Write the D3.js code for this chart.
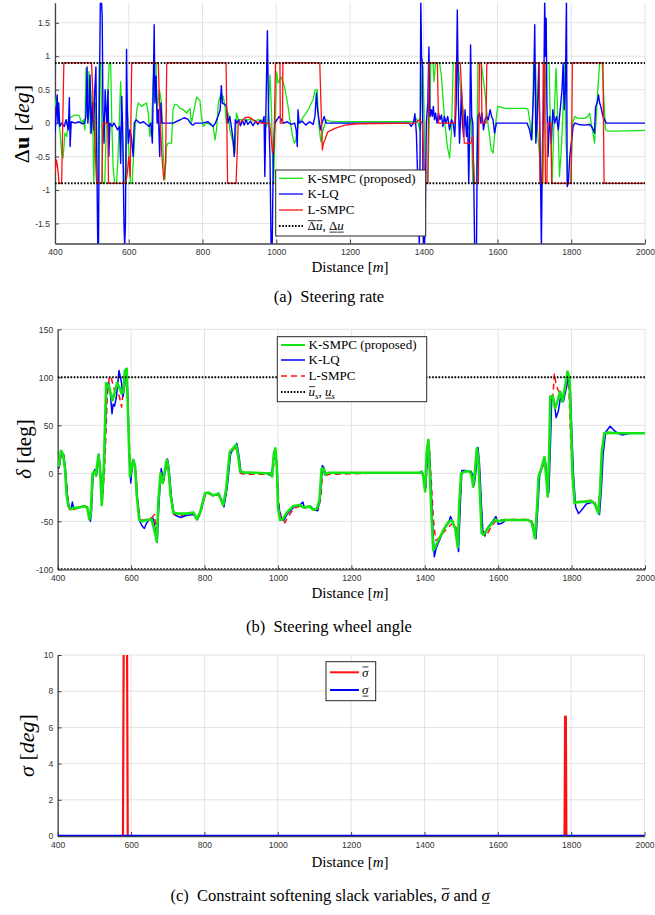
<!DOCTYPE html>
<html><head><meta charset="utf-8">
<script src="https://cdn.jsdelivr.net/npm/d3@7"></script>
<style>body{margin:0;background:#fff} svg{display:block}</style>
</head><body><svg id="c" width="655" height="915"></svg>
<script>
// ---------------- DATA ----------------
const xTicks = [400,600,800,1000,1200,1400,1600,1800,2000];
const rateTicks = [-1.5,-1,-0.5,0,0.5,1,1.5];
const angleTicks = [-100,-50,0,50,100,150];
const slackTicks = [0,2,4,6,8,10];
const rateBound = 0.9;
const angleBound = 100;

// (a) steering rate [distance, value]
const rate_KSMPC = [[400,0.25],[404,0.39],[408,0.1],[413,-0.1],[418,-0.45],[422,-0.52],[427,-0.15],[432,-0.2],[436,0.05],[441,0.08],[447,0.1],[452,0.12],[460,0.12],[466,0.11],[472,0.0],[477,0.05],[481,-0.1],[484,0.82],[487,0.2],[490,0.4],[492,0.77],[496,-0.15],[501,0.5],[505,-0.9],[510,0.3],[513,-0.9],[517,-0.9],[520,0.9],[524,0.9],[529,-0.9],[535,-0.9],[540,0.1],[547,0.9],[551,0.9],[554,0.0],[558,-0.7],[562,-0.9],[567,-0.9],[571,-0.5],[578,0.62],[583,-0.3],[588,-0.9],[592,-0.9],[596,0.3],[601,-0.6],[605,-0.9],[609,-0.9],[617,-0.1],[622,0.2],[626,0.3],[635,0.25],[642,0.28],[648,0.3],[653,0.15],[657,-0.2],[662,-0.05],[666,0.6],[669,0.9],[674,0.9],[677,0.2],[683,0.5],[689,0.3],[693,-0.4],[698,-0.85],[702,-0.35],[707,-0.3],[716,-0.3],[720,0.2],[725,0.28],[730,0.28],[739,0.22],[748,0.2],[757,0.15],[766,0.22],[770,0.0],[779,0.25],[784,0.39],[793,0.34],[797,0.1],[802,-0.05],[811,0.0],[820,-0.02],[829,-0.05],[834,-0.25],[838,-0.1],[843,0.3],[849,0.42],[856,0.4],[861,0.25],[865,0.0],[870,0.15],[874,-0.1],[883,-0.3],[888,-0.45],[892,0.15],[897,0.05],[910,0.05],[920,0.04],[930,0.06],[940,0.03],[950,0.05],[960,0.04],[965,0.05],[974,-0.05],[978,0.1],[983,0.72],[987,0.2],[990,-0.5],[993,-0.9],[996,-0.2],[1001,0.77],[1005,0.6],[1014,0.69],[1023,0.53],[1032,0.25],[1037,0.05],[1046,-0.25],[1050,-0.3],[1055,-0.2],[1060,0.0],[1068,0.05],[1077,0.12],[1087,0.2],[1095,0.3],[1100,0.35],[1105,0.49],[1111,0.5],[1115,0.0],[1121,-0.28],[1127,-0.1],[1136,0.05],[1150,0.02],[1200,0.02],[1375,0.02],[1380,0.07],[1385,0.0],[1389,-0.1],[1394,0.5],[1398,0.85],[1401,0.1],[1404,-0.9],[1411,-0.9],[1419,0.9],[1425,0.9],[1428,0.62],[1432,0.9],[1443,0.9],[1448,0.7],[1457,0.0],[1464,-0.35],[1470,-0.52],[1475,-0.15],[1480,0.9],[1493,0.9],[1498,0.6],[1511,0.0],[1520,-0.1],[1529,0.1],[1533,-0.9],[1543,-0.9],[1547,0.9],[1556,0.9],[1565,0.5],[1574,0.0],[1583,-0.4],[1588,-0.45],[1592,-0.2],[1597,0.1],[1601,0.25],[1610,0.24],[1620,0.22],[1650,0.22],[1678,0.22],[1683,0.2],[1687,0.05],[1694,-0.25],[1698,0.9],[1703,0.9],[1707,0.0],[1714,-0.5],[1719,-0.9],[1723,-0.9],[1728,0.3],[1732,0.9],[1740,0.9],[1743,0.1],[1748,-0.9],[1755,0.3],[1759,0.82],[1764,0.0],[1768,-0.8],[1773,-0.4],[1777,0.1],[1782,0.87],[1786,-0.3],[1791,-0.9],[1798,-0.9],[1804,0.0],[1809,0.1],[1818,0.07],[1836,0.07],[1845,0.1],[1850,0.15],[1854,0.0],[1859,-0.15],[1863,-0.3],[1868,0.1],[1872,0.5],[1877,0.9],[1884,0.9],[1888,0.4],[1893,-0.1],[1900,-0.12],[1922,-0.12],[2000,-0.11]];

const rate_KLQ = [[400,-0.15],[403,0.1],[406,0.42],[408,0.0],[410,0.3],[413,-0.05],[418,0.0],[425,-0.05],[430,0.05],[436,-0.1],[439,0.38],[441,-0.35],[444,0.02],[455,0.0],[465,0.02],[475,-0.01],[480,0.0],[484,0.1],[487,0.84],[489,0.0],[492,0.2],[495,0.72],[498,-0.15],[502,0.3],[505,-0.1],[508,0.5],[511,0.84],[513,-0.3],[516,-1.85],[518,-1.85],[520,0.2],[523,1.85],[526,1.85],[528,1.6],[530,0.2],[533,-0.3],[536,0.5],[538,0.25],[541,0.0],[544,0.5],[546,-0.5],[549,0.0],[555,-0.05],[560,0.0],[570,-0.1],[575,-0.05],[578,-0.6],[581,0.4],[584,-0.2],[587,-1.5],[589,-1.85],[591,-1.5],[594,1.1],[596,0.2],[599,-0.3],[603,-0.1],[607,-0.2],[612,-0.5],[615,0.0],[620,0.05],[630,0.0],[640,0.02],[655,-0.05],[660,0.0],[664,-0.3],[667,0.7],[669,1.47],[671,0.3],[674,0.7],[677,0.0],[680,0.2],[684,-0.5],[687,0.3],[690,0.0],[700,0.0],[720,0.0],[740,0.05],[750,0.08],[760,0.06],[770,-0.02],[775,-0.03],[780,0.0],[800,0.0],[815,0.02],[829,-0.05],[835,0.0],[842,0.1],[848,0.2],[851,0.56],[854,0.3],[860,0.28],[865,0.25],[869,0.0],[874,0.1],[878,-0.05],[883,-0.25],[886,-0.5],[889,0.05],[893,0.0],[898,0.05],[903,-0.04],[908,0.04],[913,-0.03],[918,0.05],[923,-0.02],[930,0.03],[937,-0.04],[944,0.03],[950,-0.02],[957,0.04],[963,0.0],[967,0.1],[969,-0.8],[972,0.2],[976,1.38],[979,0.2],[983,-0.5],[986,-1.85],[989,-1.85],[992,-0.5],[996,0.0],[1002,0.05],[1008,0.1],[1014,0.05],[1020,0.0],[1030,0.02],[1040,-0.02],[1050,0.0],[1054,-0.1],[1057,-0.35],[1059,0.2],[1062,0.0],[1070,0.03],[1080,-0.03],[1090,0.02],[1100,-0.02],[1105,0.1],[1109,0.45],[1112,0.2],[1116,0.05],[1120,-0.1],[1124,0.0],[1130,0.1],[1135,0.0],[1140,0.0],[1200,0.0],[1360,0.0],[1366,-0.05],[1372,0.0],[1376,0.14],[1380,-0.15],[1384,-0.9],[1388,-1.85],[1390,-0.5],[1392,1.85],[1394,1.0],[1396,0.9],[1399,-1.85],[1402,-1.85],[1404,-1.43],[1407,0.0],[1411,0.3],[1414,1.14],[1417,0.1],[1420,0.2],[1423,0.1],[1426,0.25],[1429,0.05],[1432,0.15],[1436,0.0],[1440,0.15],[1444,0.05],[1448,0.12],[1452,-0.05],[1456,0.1],[1460,0.0],[1465,0.1],[1470,-0.1],[1475,0.05],[1480,0.0],[1484,-0.2],[1488,0.3],[1491,1.69],[1494,0.3],[1497,-0.3],[1500,0.1],[1502,0.5],[1505,0.0],[1508,-0.2],[1512,0.2],[1516,-0.2],[1519,0.1],[1522,-0.9],[1525,0.0],[1527,1.17],[1530,0.1],[1533,0.0],[1536,-1.0],[1538,-1.85],[1543,-1.85],[1545,-0.5],[1547,0.1],[1551,0.15],[1555,0.0],[1558,0.15],[1562,-0.1],[1566,0.05],[1570,0.1],[1575,0.05],[1580,0.2],[1584,0.1],[1588,0.05],[1592,-0.15],[1597,0.0],[1601,0.0],[1680,0.0],[1687,-0.1],[1692,-0.25],[1695,0.1],[1698,0.5],[1701,1.47],[1704,-0.3],[1708,0.1],[1712,0.9],[1716,-0.5],[1719,-1.85],[1722,-0.3],[1725,0.2],[1728,1.85],[1730,1.0],[1732,1.57],[1734,0.3],[1737,-0.5],[1741,0.1],[1746,-0.3],[1750,0.2],[1755,0.0],[1760,0.1],[1765,-0.1],[1770,0.2],[1775,0.5],[1778,0.9],[1781,0.2],[1784,0.5],[1787,1.85],[1789,-0.95],[1792,-0.9],[1796,-0.5],[1800,-0.3],[1805,-0.05],[1810,0.0],[1820,-0.02],[1835,-0.03],[1850,-0.02],[1855,-0.05],[1860,-0.1],[1863,-0.15],[1866,0.24],[1870,0.3],[1874,0.42],[1877,0.3],[1880,0.25],[1886,0.1],[1895,0.0],[1910,0.0],[2000,0.0]];

const rate_LSMPC = [[400,-0.75],[404,-0.55],[407,-0.65],[411,-0.9],[418,-0.9],[424,0.9],[499,0.9],[513,-0.9],[527,-0.9],[530,0.0],[543,0.0],[545,-0.9],[592,-0.9],[596,-0.75],[600,-0.5],[604,-0.8],[608,0.9],[680,0.9],[684,0.2],[690,-0.5],[695,-0.85],[700,-0.6],[703,0.9],[864,0.9],[868,-0.9],[891,-0.9],[897,0.0],[905,0.02],[915,0.08],[925,0.09],[935,0.06],[945,0.02],[960,0.0],[982,0.0],[986,-0.2],[990,-0.45],[994,-0.3],[998,0.9],[1010,0.9],[1011,0.0],[1017,0.0],[1018,0.9],[1118,0.9],[1125,-0.4],[1128,-0.3],[1132,-0.25],[1140,-0.13],[1159,-0.08],[1186,-0.03],[1220,-0.01],[1376,0.0],[1388,0.05],[1396,0.0],[1403,-0.9],[1411,-0.9],[1414,0.9],[1437,0.9],[1440,0.0],[1484,0.0],[1487,0.9],[1499,0.9],[1510,-0.3],[1528,-0.3],[1532,-0.2],[1537,-0.9],[1548,-0.9],[1551,0.9],[1556,0.9],[1558,0.0],[1569,0.0],[1571,0.9],[1713,0.9],[1715,-0.9],[1722,-0.9],[1724,0.9],[1728,0.9],[1730,-0.9],[1734,-0.9],[1736,0.0],[1745,0.0],[1747,-0.9],[1800,-0.9],[1803,0.9],[1886,0.9],[1889,-0.9],[2000,-0.9]];

// (b) steering wheel angle [distance, deg]
const angle_KSMPC = [[400,7],[403,8],[409,23.5],[415,19],[420,3.5],[424,-21],[429,-34],[435,-37.5],[447,-36],[461,-35.5],[474,-34],[481,-36],[486,-48],[490,-41],[495,0],[500,2],[504,-2],[511,19],[515,7],[520,-33],[526,10],[532,94],[538,92],[542,87],[549,76],[556,85],[562,94],[570,88],[574,83],[579,85],[583,107],[588,109],[592,55],[597,-3.5],[602,7],[606,14],[611,7],[615,-21],[622,-48.6],[633,-50],[642,-48.6],[656,-48],[665,-62],[670,-71],[674,-30],[680,0],[686,-10],[697,14],[701,7],[708,-24],[715,-41],[729,-42],[751,-42],[770,-41],[779,-48],[788,-40.7],[801,-21],[810,-20],[824,-23],[838,-21],[847,-29.5],[851,-33],[859,-16],[869,22.5],[878,26],[886,29.5],[892,17],[897,2],[906,1],[970,0],[978,0],[984,-3.5],[986,7],[989,21],[993,26],[997,7],[1000,-35],[1006,-48.6],[1013,-48],[1024,-41],[1042,-34],[1060,-33],[1069,-35.5],[1087,-34.7],[1096,-38],[1106,-37],[1113,-28],[1119,5],[1124,5],[1128,-1.5],[1137,0.5],[1200,0.5],[1383,0.5],[1392,1.5],[1396,-3.5],[1401,-19],[1405,21],[1410,35],[1414,-3],[1419,-48.6],[1423,-80],[1428,-77],[1437,-70],[1451,-59],[1464,-51],[1474,-49],[1483,-57.6],[1490,-77],[1494,-31],[1499,0],[1510,2],[1523,2],[1528,-3.5],[1532,-14],[1537,3.5],[1542,26],[1546,14],[1551,-28],[1555,-62.5],[1560,-64],[1569,-59],[1583,-52],[1592,-48],[1600,-50],[1619,-48.6],[1682,-48.6],[1691,-51],[1696,-59],[1700,-67.7],[1706,-35],[1710,-3.5],[1719,7],[1726,17],[1730,0],[1735,-24],[1739,21],[1742,80],[1748,80.5],[1755,67.7],[1761,74.6],[1769,85],[1775,74.6],[1782,90],[1789,106],[1794,100],[1798,55.5],[1802,3.5],[1808,-31],[1817,-30],[1837,-29.5],[1855,-29],[1864,-32.5],[1873,-41.7],[1878,-17],[1882,21],[1889,41.7],[1900,42.4],[1928,41.7],[2000,41.7]];

const angle_KLQ = [[400,5],[404,7],[410,22],[416,20],[421,5],[426,-22],[431,-35],[437,-36],[440,-30],[443,-36],[455,-36],[470,-34],[480,-35],[487,-46],[489,-50],[492,-40],[496,-2],[501,4],[506,-2],[512,20],[516,5],[521,-30],[527,12],[534,93],[539,94],[543,85],[548,62],[551,72],[555,70],[560,80],[567,107],[571,100],[574,94],[578,80],[582,90],[587,109],[591,80],[595,20],[599,-10],[604,12],[608,10],[613,-5],[617,-25],[624,-50],[630,-55],[636,-57.5],[642,-52],[650,-48],[660,-47],[666,-60],[671,-72],[676,-30],[682,5],[688,-8],[699,15],[703,6],[710,-25],[716,-40],[722,-44],[735,-46],[750,-44],[770,-43],[781,-48],[790,-39],[803,-20],[812,-21],[826,-23],[840,-22],[849,-30],[853,-35],[862,-14],[871,20],[879,27],[888,31],[894,18],[899,2],[910,0],[970,0],[980,-2],[985,5],[988,14],[992,18],[997,12],[1001,-30],[1008,-48],[1016,-49],[1026,-42],[1044,-35],[1060,-33],[1068,-30],[1072,-36],[1088,-34],[1098,-38],[1108,-39],[1115,-27],[1121,8],[1125,6],[1130,-1],[1140,0.5],[1383,0],[1393,2],[1398,-5],[1403,-15],[1408,30],[1412,28],[1416,-5],[1421,-50],[1426,-87],[1431,-78],[1440,-70],[1452,-58],[1465,-52],[1470,-45],[1476,-50],[1485,-60],[1492,-81.5],[1497,-30],[1501,3],[1512,3],[1526,2],[1531,-2],[1535,-12],[1540,5],[1545,27],[1549,10],[1554,-30],[1558,-60],[1563,-65],[1571,-57],[1585,-50],[1594,-45],[1600,-53],[1610,-52],[1620,-49],[1683,-49],[1693,-52],[1699,-60],[1703,-68],[1709,-30],[1713,-2],[1721,8],[1728,15],[1733,-2],[1738,-20],[1742,25],[1746,80],[1751,78],[1758,58],[1764,65],[1771,82],[1778,75],[1785,88],[1791,100],[1796,90],[1800,50],[1805,0],[1811,-35],[1819,-42],[1828,-38],[1840,-32],[1858,-30],[1867,-34],[1876,-43],[1881,-18],[1886,20],[1893,43],[1905,49],[1915,45],[1925,42],[1937,40],[1960,41.7],[2000,41.7]];

const angle_LSMPC = [[400,5],[404,6],[411,22],[417,18],[422,0],[427,-25],[432,-38],[437,-39],[448,-37],[462,-36],[475,-34],[482,-38],[487,-46],[491,-42],[496,-3],[501,1],[505,-3],[512,16],[516,4],[521,-32],[528,5],[535,80],[540,99],[545,101],[550,93],[555,86],[562,86],[568,80],[574,69],[579,88],[585,100],[590,90],[594,40],[599,-5],[603,8],[608,12],[613,5],[617,-25],[624,-48],[635,-49],[645,-47],[657,-46],[664,-43],[669,-68],[675,-30],[681,0],[687,-12],[698,12],[702,5],[709,-26],[716,-43],[730,-44],[752,-43],[770,-42],[780,-48],[789,-42],[802,-22],[811,-21],[825,-24],[839,-22],[848,-31],[852,-34],[860,-18],[870,20],[879,25],[887,27],[893,15],[898,0],[910,-1],[970,-1],[985,-2],[989,10],[993,18],[998,5],[1002,-32],[1010,-47],[1019,-51.5],[1028,-45],[1045,-36],[1062,-34],[1072,-36],[1090,-35],[1100,-37],[1110,-38],[1117,-25],[1122,3],[1126,3],[1131,-2],[1140,-1],[1250,0],[1384,0],[1393,1],[1397,-4],[1403,-14],[1408,22],[1412,30],[1418,-10],[1424,-50],[1430,-70],[1437,-68],[1450,-62],[1465,-56],[1476,-52],[1485,-56],[1491,-70],[1496,-35],[1501,0],[1512,2],[1525,2],[1530,-4],[1534,-12],[1539,2],[1544,24],[1548,12],[1553,-30],[1558,-58],[1565,-66],[1572,-62],[1584,-54],[1593,-50],[1602,-49],[1620,-48],[1682,-48],[1692,-50],[1697,-56],[1701,-62],[1707,-30],[1711,-3],[1720,5],[1727,12],[1732,-3],[1736,-20],[1740,20],[1744,70],[1750,85],[1753,104],[1758,92],[1764,86],[1770,82],[1776,75],[1782,88],[1788,102],[1793,85],[1797,40],[1802,0],[1807,-30],[1816,-30],[1836,-29],[1855,-28],[1863,-30],[1872,-40],[1877,-18],[1882,18],[1889,40],[1900,42],[1930,41.7],[2000,41.7]];

// (c) slack variables [distance, deg]
const slackUpper = [[400,0],[578,0],[580,11],[589,11],[591,0],[1782,0],[1783.5,6.6],[1785.5,6.6],[1787,0],[2000,0]];
const slackLower = [[400,0],[2000,0]];

// ---------------- DRAWING ----------------
const svg = d3.select('#c');
svg.append('rect').attr('width',655).attr('height',915).attr('fill','#fff');
const SERIF = "Liberation Serif, Tinos, Times New Roman, DejaVu Serif, Noto Serif, serif";
const SANS = "Liberation Sans, Arimo, Arial, Helvetica, sans-serif";
const GREEN = '#12e612', BLUE = '#0000ff', RED = '#ff1010';

function rich(g, parts, size, x0, y0) {
  let x = x0;
  parts.forEach(p => {
    const fs = p.sub ? size*0.7 : size;
    const dy = p.sub ? size*0.22 : 0;
    const t = g.append('text').attr('x', x).attr('y', y0+dy)
      .style('font-family', SERIF).style('font-size', fs + 'px')
      .style('font-style', p.it ? 'italic' : 'normal')
      .style('font-weight', p.b ? 'bold' : 'normal')
      .attr('fill', '#000').style('white-space','pre').text(p.t);
    const w = t.node().getComputedTextLength();
    if (p.over) g.append('line').attr('x1', x+0.5).attr('x2', x+w).attr('y1', y0-size*0.74).attr('y2', y0-size*0.74)
      .attr('stroke','#000').attr('stroke-width', Math.max(0.8,size*0.055));
    if (p.under) g.append('line').attr('x1', x+0.5).attr('x2', x+w).attr('y1', y0+size*0.14).attr('y2', y0+size*0.14)
      .attr('stroke','#000').attr('stroke-width', Math.max(0.8,size*0.055));
    x += w;
  });
  return x - x0;
}
function centeredRich(parts, size, cx, baseline) {
  const g = svg.append('g');
  const inner = g.append('g');
  const w = rich(inner, parts, size, 0, 0);
  g.attr('transform', `translate(${cx - w/2},${baseline})`);
}
function rotatedRich(parts, size, cx, cy) {
  const g = svg.append('g').attr('transform', `translate(${cx},${cy}) rotate(-90)`);
  const inner = g.append('g');
  const w = rich(inner, parts, size, 0, 0);
  inner.attr('transform', `translate(${-w/2},${size*0.33})`);
}

let clipId = 0;
function panel(cfg) {
  const x = d3.scaleLinear().domain([400,2000]).range([cfg.x0, cfg.x1]);
  const y = d3.scaleLinear().domain(cfg.yDomain).range([cfg.y1, cfg.y0]);
  const g = svg.append('g');
  const id = 'clip' + (clipId++);
  g.append('clipPath').attr('id', id).append('rect')
    .attr('x', cfg.x0).attr('y', cfg.y0).attr('width', cfg.x1-cfg.x0).attr('height', cfg.y1-cfg.y0);
  const grid = g.append('g').attr('stroke','#e3e3e3').attr('stroke-width',1);
  xTicks.forEach(t => grid.append('line').attr('x1', x(t)).attr('x2', x(t)).attr('y1', cfg.y0).attr('y2', cfg.y1));
  cfg.yTicks.forEach(t => grid.append('line').attr('x1', cfg.x0).attr('x2', cfg.x1).attr('y1', y(t)).attr('y2', y(t)));
  const ax = g.append('g').attr('transform', `translate(0,${cfg.y1})`)
    .call(d3.axisBottom(x).tickValues(xTicks).tickSize(-4).tickSizeOuter(0).tickPadding(5.5).tickFormat(d => String(d)));
  const ay = g.append('g').attr('transform', `translate(${cfg.x0},0)`)
    .call(d3.axisLeft(y).tickValues(cfg.yTicks).tickSize(-4).tickSizeOuter(0).tickPadding(cfg.yPad).tickFormat(d => String(d)));
  [ax, ay].forEach(a => {
    a.attr('font-family', null).attr('font-size', null);
    a.select('.domain').attr('stroke','#444').attr('stroke-width',1.3);
    a.selectAll('.tick line').attr('stroke','#444');
    a.selectAll('.tick text').style('font-family', SANS).style('font-size', '8.6px').attr('fill','#333');
  });
  const plot = g.append('g').attr('clip-path', `url(#${id})`);
  const line = d3.line().x(d => x(d[0])).y(d => y(d[1]));
  return {x, y, plot, line};
}
function drawSeries(p, data, color, width, dash) {
  p.plot.append('path').datum(data).attr('d', p.line).attr('fill','none')
    .attr('stroke', color).attr('stroke-width', width).attr('stroke-linejoin','round')
    .attr('stroke-dasharray', dash || null);
}
function dotted(p, v) {
  p.plot.append('line').attr('x1', p.x(400)).attr('x2', p.x(2000)).attr('y1', p.y(v)).attr('y2', p.y(v))
    .attr('stroke','#000').attr('stroke-width',2).attr('stroke-dasharray','1.6,1.6');
}
function legend(box, rows, size) {
  svg.append('rect').attr('x', box.x).attr('y', box.y).attr('width', box.w).attr('height', box.h)
    .attr('fill','#fff').attr('stroke','#262626').attr('stroke-width',1);
  rows.forEach(r => {
    svg.append('line').attr('x1', box.lx0).attr('x2', box.lx1).attr('y1', r.y).attr('y2', r.y)
      .attr('stroke', r.color).attr('stroke-width', r.width).attr('stroke-dasharray', r.dash || null);
    const g = svg.append('g');
    rich(g, r.parts, size, box.tx, r.y + size*0.33);
  });
}

// ---- (a) steering rate ----
const pA = panel({x0:55, x1:645, y0:2.7, y1:243.5, yDomain:[-1.8,1.8], yTicks:rateTicks, yPad:5});
drawSeries(pA, rate_KSMPC, GREEN, 1.3);
drawSeries(pA, rate_KLQ, BLUE, 1.4);
drawSeries(pA, rate_LSMPC, RED, 1.3);
dotted(pA, rateBound); dotted(pA, -rateBound);
rotatedRich([{t:'Δ'},{t:'u',b:true},{t:' ['},{t:'deg',it:true},{t:']'}], 22, 21.5, 124);
centeredRich([{t:'Distance '},{t:'['},{t:'m',it:true},{t:']'}], 15, 350, 272);
centeredRich([{t:'(a)\u00a0 Steering rate'}], 16.5, 329, 302);
legend({x:275.7, y:170, w:150, h:66, lx0:279, lx1:303, tx:307.5}, [
  {y:178.3, color:GREEN, width:1.3, parts:[{t:'K-SMPC (proposed)'}]},
  {y:194, color:BLUE, width:1.3, parts:[{t:'K-LQ'}]},
  {y:210, color:RED, width:1.3, parts:[{t:'L-SMPC'}]},
  {y:226, color:'#000', width:2, dash:'1.6,1.6', parts:[{t:'Δ',over:true},{t:'u',it:true,over:true},{t:', '},{t:'Δ',under:true},{t:'u',it:true,under:true}]}
], 13);

// ---- (b) steering wheel angle ----
const pB = panel({x0:57.7, x1:645, y0:329.3, y1:569.3, yDomain:[-100,150], yTicks:angleTicks, yPad:4.5});
drawSeries(pB, angle_LSMPC, RED, 1.5, '6,4');
drawSeries(pB, angle_KLQ, BLUE, 1.5);
drawSeries(pB, angle_KSMPC, GREEN, 2.6);
dotted(pB, angleBound); dotted(pB, -angleBound);
rotatedRich([{t:'δ',it:true},{t:' [deg]'}], 21, 24, 449);
centeredRich([{t:'Distance '},{t:'['},{t:'m',it:true},{t:']'}], 15, 350, 597.5);
centeredRich([{t:'(b)\u00a0 Steering wheel angle'}], 16.5, 329, 632);
legend({x:277.3, y:336.7, w:149.4, h:65, lx0:281, lx1:305, tx:308.5}, [
  {y:345, color:GREEN, width:2, parts:[{t:'K-SMPC (proposed)'}]},
  {y:360, color:BLUE, width:1.5, parts:[{t:'K-LQ'}]},
  {y:376, color:RED, width:1.5, dash:'6,4', parts:[{t:'L-SMPC'}]},
  {y:392, color:'#000', width:2, dash:'1.6,1.6', parts:[{t:'u',it:true,over:true},{t:'s',it:true,sub:true},{t:', '},{t:'u',it:true,under:true},{t:'s',it:true,sub:true}]}
], 13);

// ---- (c) slack variables ----
const pC = panel({x0:57.7, x1:644.5, y0:655, y1:836, yDomain:[0,10], yTicks:slackTicks, yPad:4.5});
drawSeries(pC, slackUpper, RED, 2.2);
drawSeries(pC, slackLower, BLUE, 2.4);
rotatedRich([{t:'σ',it:true},{t:' ['},{t:'deg',it:true},{t:']'}], 22, 27, 745.5);
centeredRich([{t:'Distance '},{t:'['},{t:'m',it:true},{t:']'}], 15, 350, 867);
centeredRich([{t:'(c)\u00a0 Constraint softening slack variables, '},{t:'σ',it:true,over:true},{t:' and '},{t:'σ',it:true,under:true}], 16.5, 330, 901);
legend({x:326, y:661.7, w:49.7, h:39, lx0:330, lx1:359, tx:362}, [
  {y:672.3, color:RED, width:2, parts:[{t:'σ',it:true,over:true}]},
  {y:690, color:BLUE, width:2, parts:[{t:'σ',it:true,under:true}]}
], 13);
</script></body></html>
